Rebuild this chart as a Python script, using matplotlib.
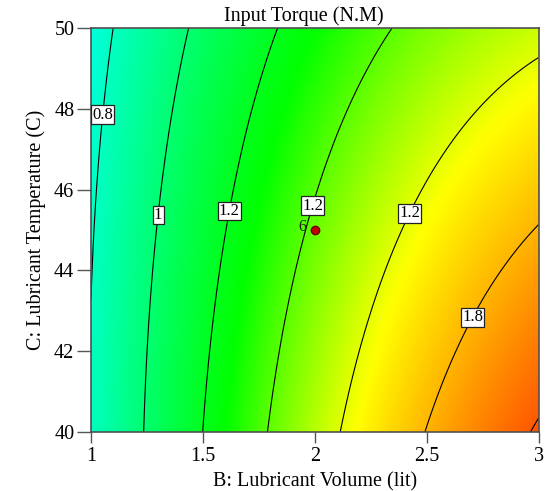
import numpy as np
import matplotlib
matplotlib.use('Agg')
import matplotlib.pyplot as plt
from matplotlib.colors import LinearSegmentedColormap

plt.rcParams['font.family'] = ['Liberation Serif', 'DejaVu Serif']

# Response surface for input torque, coded factors:
# x = B - 2 (lubricant volume), z = (C - 45) / 5 (lubricant temperature)
coef_const = 1.421
coef_b = 0.508
coef_c = -0.1305
coef_bc = -0.095
coef_b2 = -0.123
coef_c2 = -0.0185

b_limits = [1, 3]
c_limits = [40, 50]
x_ticks = [1, 1.5, 2, 2.5, 3]
x_tick_labels = ['1', '1.5', '2', '2.5', '3']
y_ticks = [40, 42, 44, 46, 48, 50]
y_tick_labels = ['40', '42', '44', '46', '48', '50']

contour_levels = [0.8, 1.0, 1.2, 1.4, 1.6, 1.8, 2.0]
contour_labels = ['0.8', '1', '1.2', '1.2', '1.2', '1.8', '']
label_spots = [(1.054, 47.85), (1.304, 45.37), (1.62, 45.47),
               (1.99, 45.6), (2.422, 45.42), (2.70, 42.85)]

center_point = (2.0, 45.0)
center_reps = '6'

# colour ramp anchors (response value -> colour)
ramp_values = [0.65, 1.27, 1.64, 2.2]
ramp_colors = ['#00ffff', '#00ff00', '#ffff00', '#ff0000']


def torque(b, c):
    x = b - 2.0
    z = (c - 45.0) / 5.0
    return (coef_const + coef_b * x + coef_c * z + coef_bc * x * z
            + coef_b2 * x ** 2 + coef_c2 * z ** 2)


bb, cc = np.meshgrid(np.linspace(b_limits[0], b_limits[1], 400),
                     np.linspace(c_limits[0], c_limits[1], 400))
tq = torque(bb, cc)

vmin, vmax = ramp_values[0], ramp_values[-1]
cmap = LinearSegmentedColormap.from_list(
    'torque', [((v - vmin) / (vmax - vmin), col) for v, col in zip(ramp_values, ramp_colors)])

fig = plt.figure(figsize=(5.48, 4.91), dpi=100)
ax = fig.add_axes([0.1661, 0.1202, 0.8166, 0.8228])

ax.imshow(tq, extent=(b_limits[0], b_limits[1], c_limits[0], c_limits[1]),
          origin='lower', aspect='auto', cmap=cmap, vmin=vmin, vmax=vmax,
          interpolation='bilinear')

cs = ax.contour(bb, cc, tq, levels=contour_levels, colors='black', linewidths=0.8)
label_fmt = dict(zip(contour_levels, contour_labels))
texts = cs.clabel(levels=contour_levels[:-1], manual=label_spots, inline=False,
                  fmt=label_fmt, fontsize=12)
for t in texts:
    t.set_rotation(0)
    t.set_bbox(dict(boxstyle='square,pad=0.08', facecolor='white',
                    edgecolor='#222222', linewidth=0.9))

# design center point
ax.plot(*center_point, 'o', color='#c00000', markeredgecolor='#700000',
        markersize=6, zorder=5)
ax.annotate(center_reps, xy=center_point, xytext=(-6, 2), textcoords='offset points',
            ha='right', va='center', fontsize=11.5, color='#222222')

ax.set_xlim(b_limits)
ax.set_ylim(c_limits)
ax.set_xticks(x_ticks)
ax.set_xticklabels(x_tick_labels)
ax.set_yticks(y_ticks)
ax.set_yticklabels(y_tick_labels)
ax.tick_params(axis='x', direction='out', length=8, width=1, color='#555555',
               labelsize=14.5, pad=3)
ax.tick_params(axis='y', direction='out', length=10, width=1, color='#555555',
               labelsize=14.5, pad=2)
for sp in ax.spines.values():
    sp.set_color('#505050')
    sp.set_linewidth(1.2)

ax.set_title('Input Torque (N.M)', fontsize=14.5, x=0.476, pad=5)
ax.set_xlabel('B: Lubricant Volume (lit)', fontsize=14.5, labelpad=4)
ax.set_ylabel('C: Lubricant Temperature (C)', fontsize=14.5, labelpad=6)

fig.savefig('out.png', dpi=100)
